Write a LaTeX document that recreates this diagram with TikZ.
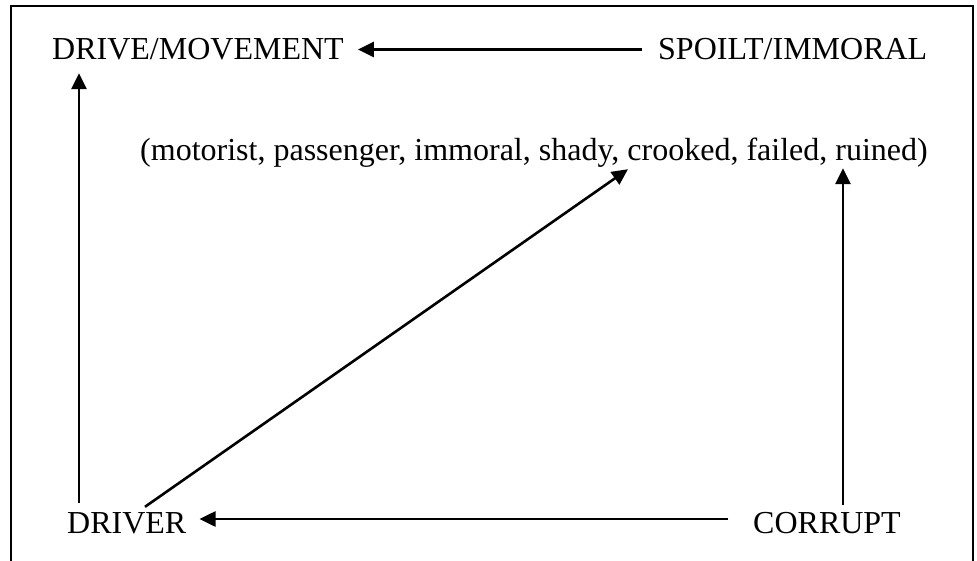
\documentclass[tikz,border=0pt]{standalone}
\usepackage{fontspec}
\setmainfont{Liberation Serif}
\usetikzlibrary{arrows.meta}
\begin{document}
\begin{tikzpicture}[x=1pt,y=-1pt,
  lbl/.style={inner sep=0pt, anchor=base west, font=\fontsize{32}{38}\selectfont,
              text height=21pt, text depth=0pt},
  arr/.style={line width=2.6pt, -{Triangle[length=16pt,width=15pt]}},
  frame/.style={line width=2pt}]
\useasboundingbox (0,0) rectangle (977,561);
% open frame
\draw[frame] (11,561) -- (11,6) -- (973,6) -- (973,561);
% labels
\node[lbl] (mov) at (52,60)  {DRIVE/MOVEMENT};
\node[lbl] (spo) at (658,60) {SPOILT/IMMORAL};
\node[lbl] (par) at (140,161) {(motorist, passenger, immoral, shady, crooked, failed, ruined)};
\node[lbl] (drv) at (67,533)  {DRIVER};
\node[lbl] (cor) at (753,533) {CORRUPT};
% connectors
\draw[arr] ([shift={(-16,0)}]spo.west) -- ([shift={(14,0)}]mov.east);
\draw[arr] ([shift={(12,-9)}]drv.north west) -- ([shift={(27,13)}]mov.south west);
\draw[arr] ([shift={(78,-5)}]drv.north west) -- ([shift={(488,8)}]par.south west);
\draw[arr] ([shift={(90,-7)}]cor.north west) -- ([shift={(703,7)}]par.south west);
\draw[arr] ([shift={(-25,-14)}]cor.base west) -- ([shift={(13,-14)}]drv.base east);
\end{tikzpicture}
\end{document}
